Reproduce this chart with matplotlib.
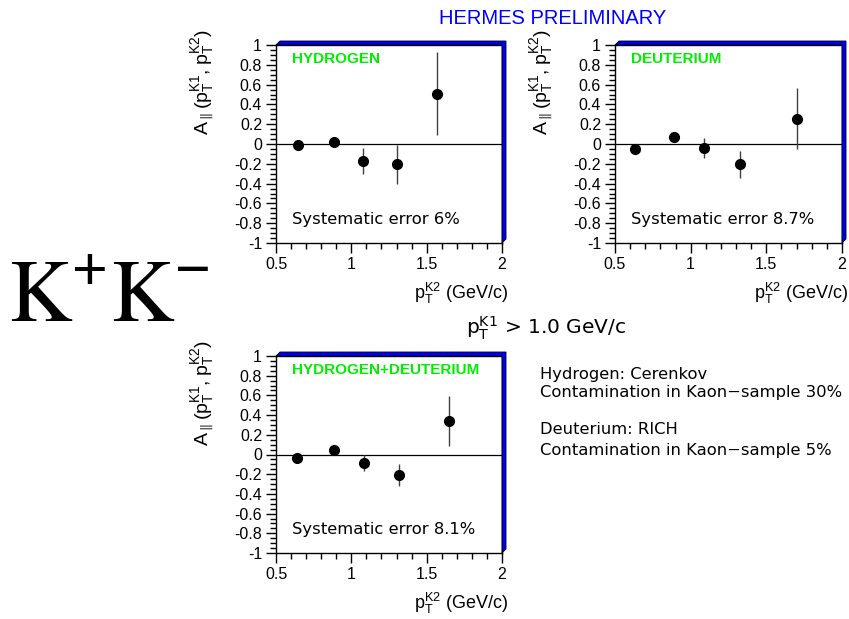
import numpy as np
import matplotlib
matplotlib.use("Agg")
import matplotlib.pyplot as plt
from matplotlib.patches import Polygon
from matplotlib.ticker import MultipleLocator

plt.rcParams["font.family"] = ["Liberation Sans", "DejaVu Sans"]
plt.rcParams["mathtext.default"] = "regular"

# --- data -----------------------------------------------------------------
h_x = [0.648, 0.888, 1.08, 1.304, 1.568]
h_y = [-0.015, 0.02, -0.17, -0.207, 0.507]
h_err = [0.03, 0.055, 0.13, 0.20, 0.42]

d_x = [0.632, 0.888, 1.089, 1.325, 1.702]
d_y = [-0.052, 0.069, -0.039, -0.207, 0.255]
d_err = [0.03, 0.045, 0.10, 0.14, 0.31]

hd_x = [0.642, 0.888, 1.085, 1.318, 1.648]
hd_y = [-0.04, 0.044, -0.088, -0.209, 0.341]
hd_err = [0.025, 0.03, 0.08, 0.113, 0.25]

panels = [
    ("HYDROGEN", "Systematic error 6%", h_x, h_y, h_err, (276, 45, 502, 243)),
    ("DEUTERIUM", "Systematic error 8.7%", d_x, d_y, d_err, (615, 45, 842, 243)),
    ("HYDROGEN+DEUTERIUM", "Systematic error 8.1%", hd_x, hd_y, hd_err, (276, 356, 502, 553)),
]

W, H = 849, 619
fig = plt.figure(figsize=(W / 100, H / 100), dpi=100)
fig.patch.set_facecolor("white")


def fx(px):
    return px / W


def fy(py):
    return 1 - py / H


for title, syst, x, y, err, (l, t, r, b) in panels:
    ax = fig.add_axes([fx(l), fy(b), fx(r - l), (b - t) / H])
    ax.errorbar(x, y, yerr=err, fmt="o", color="black", ms=7,
                elinewidth=1.0, ecolor="0.25", capsize=0, zorder=4)
    ax.axhline(0, color="black", lw=0.9, zorder=2)
    ax.set_xlim(0.5, 2)
    ax.set_ylim(-1, 1)
    ax.xaxis.set_minor_locator(MultipleLocator(0.1))
    ax.yaxis.set_minor_locator(MultipleLocator(0.05))
    yt = np.round(np.arange(-1, 1.01, 0.2), 1)
    ax.set_yticks(yt)
    ax.set_yticklabels([f"{v:g}" if abs(v) > 1e-9 else "0" for v in yt])
    ax.set_xticks([0.5, 1, 1.5, 2])
    ax.set_xticklabels(["0.5", "1", "1.5", "2"])
    ax.tick_params(which="major", direction="out", length=7, width=1,
                   labelsize=11.5, pad=3)
    ax.tick_params(which="minor", direction="out", length=4, width=1)
    for s in ax.spines.values():
        s.set_linewidth(1.0)

    # blue 3D frame shadow on top and right
    dx = 4 / (r - l)
    dy = 4 / (b - t)
    shadow = Polygon([(0, 1), (dx, 1 + dy), (1 + dx, 1 + dy), (1 + dx, dy),
                      (1, 0), (1, 1)], closed=True, transform=ax.transAxes,
                     facecolor="#0000ee", edgecolor="black", lw=0.6,
                     clip_on=False, zorder=5)
    ax.add_patch(shadow)

    ax.text(0.07, 0.93, title, transform=ax.transAxes, color="#00ee00",
            fontsize=11, fontweight="bold", va="center", ha="left")
    ax.text(0.07, 0.12, syst, transform=ax.transAxes, color="black",
            fontsize=11.8, va="center", ha="left", family="DejaVu Sans")

    # axis titles (ROOT style, aligned to the axis end)
    fig.text(fx(l - 87), fy(t - 16), r"$A_{\parallel}(p_T^{K1},p_T^{K2})$",
             rotation=90, ha="left", va="top", fontsize=14)
    fig.text(fx(r + 6), fy(b + 50), r"$p_T^{K2}$ (GeV/c)",
             ha="right", va="center", fontsize=13)

fig.text(fx(553), fy(18), "HERMES PRELIMINARY", color="#0000ff",
         fontsize=14.5, ha="center", va="center")

fig.text(fx(8), fy(322), r"$\mathrm{K}^{+}\mathrm{K}^{-}$",
         fontsize=63, ha="left", va="baseline", math_fontfamily="stix")

fig.text(fx(466), fy(328), r"$p_T^{K1}$ > 1.0 GeV/c",
         fontsize=14.5, ha="left", va="center", family="DejaVu Sans")

notes = ["Hydrogen: Cerenkov", "Contamination in Kaon\u2212sample 30%",
         "Deuterium: RICH", "Contamination in Kaon\u2212sample 5%"]
for txt, py in zip(notes, [374, 393, 430, 450]):
    fig.text(fx(540), fy(py), txt, fontsize=11.8, ha="left", va="center",
             family="DejaVu Sans")

fig.savefig("out.png", dpi=100)
